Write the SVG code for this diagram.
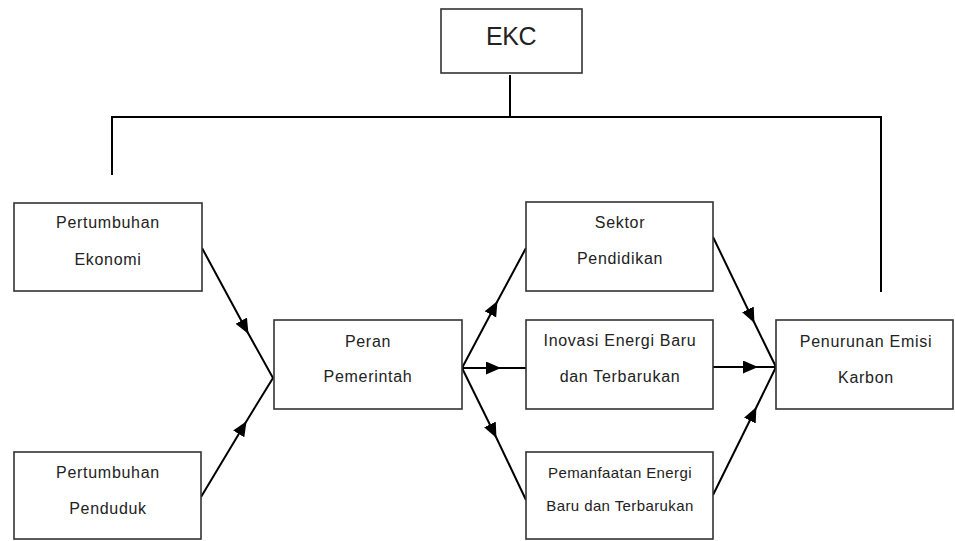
<svg xmlns="http://www.w3.org/2000/svg" width="955" height="541" viewBox="0 0 955 541">
<defs>
<marker id="arr" markerUnits="userSpaceOnUse" markerWidth="16" markerHeight="14" refX="14" refY="6.5" orient="auto">
<path d="M0,0 L15,6.5 L0,13 z" fill="#000"/>
</marker>
<style>
.box{fill:#fff;stroke:#333;stroke-width:1.6}
.t{font-family:"Liberation Sans",Arial,sans-serif;font-size:16px;letter-spacing:0.7px;fill:#222;text-anchor:middle}
.s{font-size:15px;letter-spacing:0.4px}
.c{fill:none;stroke:#000;stroke-width:2}
.a{marker-mid:url(#arr)}
</style>
</defs>
<rect width="955" height="541" fill="#fff"/>
<g id="connectors">
<path class="c" d="M510,75 V117 M112,175 V117 H881 V292"/>
<path class="c a" d="M202,248 L248,333 L273,378"/>
<path class="c a" d="M201,497 L246,422 L273,378"/>
<path class="c a" d="M462,368 L497,302 L526,248"/>
<path class="c a" d="M462,368 L500,368 L526,368"/>
<path class="c a" d="M462,368 L496,437 L526,500"/>
<path class="c a" d="M713,237 L754,322 L776,367"/>
<path class="c a" d="M713,367 L757,367 L776,367"/>
<path class="c a" d="M713,495 L756,408 L776,367"/>
</g>
<g id="ekc"><rect class="box" x="441" y="9" width="141" height="64"/><text class="t" x="511" y="45" style="font-size:25px;letter-spacing:-0.5px">EKC</text></g>
<g id="ekonomi"><rect class="box" x="14" y="203" width="188" height="88"/><text class="t" x="108" y="228">Pertumbuhan</text><text class="t" x="108" y="265">Ekonomi</text></g>
<g id="penduduk"><rect class="box" x="14" y="452" width="187" height="87"/><text class="t" x="108" y="478">Pertumbuhan</text><text class="t" x="108" y="514">Penduduk</text></g>
<g id="peran"><rect class="box" x="274" y="320" width="188" height="89"/><text class="t" x="368" y="347">Peran</text><text class="t" x="368" y="382">Pemerintah</text></g>
<g id="sektor"><rect class="box" x="526" y="202" width="187" height="89"/><text class="t" x="620" y="228">Sektor</text><text class="t" x="620" y="264">Pendidikan</text></g>
<g id="inovasi"><rect class="box" x="526" y="320" width="187" height="89"/><text class="t" x="620" y="346">Inovasi Energi Baru</text><text class="t" x="620" y="382">dan Terbarukan</text></g>
<g id="pemanfaatan"><rect class="box" x="526" y="452" width="187" height="87"/><text class="t s" x="620" y="478">Pemanfaatan Energi</text><text class="t s" x="620" y="511">Baru dan Terbarukan</text></g>
<g id="penurunan"><rect class="box" x="776" y="320" width="177" height="89"/><text class="t" x="866" y="347">Penurunan Emisi</text><text class="t" x="866" y="383">Karbon</text></g>
</svg>
